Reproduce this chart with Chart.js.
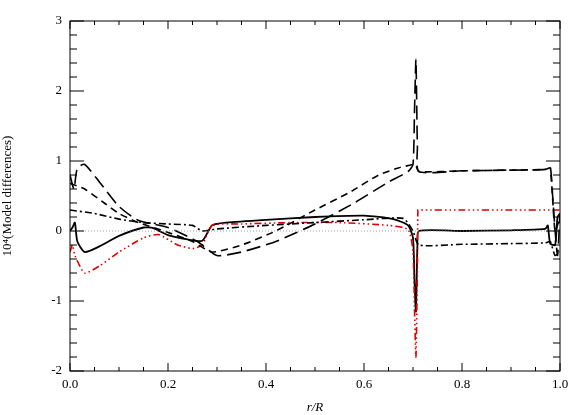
<!DOCTYPE html>
<html>
<head>
<script src="https://cdn.jsdelivr.net/npm/chart.js@4/dist/chart.umd.min.js"></script>
<style>
  body { margin: 0; background: #fff; }
  #wrap { width: 581px; height: 415px; }
</style>
</head>
<body>
<div id="wrap"><canvas id="myChart"></canvas></div>
<script>
// data
const solidX = [0, 0.005, 0.01, 0.015, 0.03, 0.06, 0.1, 0.15, 0.17, 0.2, 0.24, 0.27, 0.29, 0.32, 0.4, 0.5, 0.6, 0.66, 0.69, 0.7, 0.703, 0.706, 0.709, 0.712, 0.8, 0.9, 0.97, 0.975, 0.98, 0.99, 0.995, 1.0];
const solidY = [0, 0.05, 0.12, -0.15, -0.3, -0.22, -0.07, 0.05, 0.04, -0.06, -0.12, -0.14, 0.08, 0.12, 0.16, 0.2, 0.22, 0.17, 0.08, -0.1, -0.7, -1.15, -0.2, 0.0, 0.0, 0.01, 0.03, 0.08, -0.18, -0.2, 0.2, 0.25];

const longX = [0, 0.008, 0.015, 0.03, 0.06, 0.1, 0.14, 0.2, 0.26, 0.3, 0.35, 0.42, 0.5, 0.58, 0.65, 0.69, 0.7, 0.703, 0.706, 0.709, 0.712, 0.8, 0.9, 0.97, 0.98, 0.985, 0.99, 0.995, 1.0];
const longY = [0.8, 0.6, 0.9, 0.95, 0.7, 0.35, 0.15, 0.05, -0.15, -0.35, -0.3, -0.15, 0.1, 0.4, 0.7, 0.85, 0.95, 1.7, 2.45, 1.2, 0.85, 0.86, 0.87, 0.88, 0.92, 0.5, 0.0, -0.35, 0.25];

const shortX = [0, 0.03, 0.07, 0.1, 0.14, 0.2, 0.25, 0.29, 0.35, 0.42, 0.5, 0.57, 0.63, 0.67, 0.7, 0.705, 0.712, 0.8, 0.9, 0.97, 0.98, 0.99, 1.0];
const shortY = [0.68, 0.6, 0.4, 0.25, 0.12, -0.02, -0.15, -0.3, -0.2, 0.0, 0.3, 0.55, 0.8, 0.9, 0.95, 0.95, 0.85, 0.86, 0.87, 0.88, 0.9, 0.0, 0.2];

const dashDotX = [0, 0.05, 0.1, 0.15, 0.2, 0.25, 0.27, 0.3, 0.4, 0.5, 0.6, 0.68, 0.7, 0.712, 0.8, 0.9, 0.97, 0.98, 0.99, 1.0];
const dashDotY = [0.3, 0.25, 0.17, 0.12, 0.1, 0.08, 0.0, 0.03, 0.08, 0.12, 0.16, 0.18, 0.0, -0.2, -0.19, -0.18, -0.17, -0.15, -0.35, -0.3];

const redX = [0, 0.005, 0.01, 0.03, 0.06, 0.1, 0.15, 0.18, 0.22, 0.25, 0.27, 0.29, 0.35, 0.45, 0.55, 0.65, 0.69, 0.7, 0.703, 0.706, 0.709, 0.71, 0.712, 0.8, 0.9, 1.0];
const redY = [-0.3, -0.2, -0.35, -0.6, -0.5, -0.3, -0.1, -0.05, -0.2, -0.25, -0.2, 0.08, 0.1, 0.12, 0.12, 0.08, 0.02, -0.3, -1.1, -1.8, -0.5, 0.3, 0.3, 0.3, 0.3, 0.3];

const xTicks = [0, 0.2, 0.4, 0.6, 0.8, 1.0];
const yTicks = [-2, -1, 0, 1, 2, 3];

function pts(xs, ys) {
  return xs.map((x, i) => ({ x: x, y: ys[i] }));
}

function line(xs, ys, color, dash, width) {
  return {
    data: pts(xs, ys),
    borderColor: color,
    borderWidth: width || 1.6,
    borderDash: dash,
    pointRadius: 0,
    tension: 0.2,
    fill: false,
  };
}

// inward ticks on all four sides, like the IDL plot
const innerTicks = {
  id: "innerTicks",
  afterDraw(chart) {
    const c = chart.ctx, a = chart.chartArea;
    const xs = chart.scales.x, ys = chart.scales.y;
    c.save();
    c.strokeStyle = "#000";
    c.lineWidth = 1;
    c.strokeRect(a.left, a.top, a.right - a.left, a.bottom - a.top);
    c.beginPath();
    for (let v = 0; v <= 1.0001; v += 0.05) {
      const p = xs.getPixelForValue(v);
      const len = Math.abs(v * 5 - Math.round(v * 5)) < 1e-6 ? 8 : 4;
      c.moveTo(p, a.bottom); c.lineTo(p, a.bottom - len);
      c.moveTo(p, a.top); c.lineTo(p, a.top + len);
    }
    for (let v = -2; v <= 3.0001; v += 0.2) {
      const p = ys.getPixelForValue(v);
      const len = Math.abs(v - Math.round(v)) < 1e-6 ? 14 : 7;
      c.moveTo(a.left, p); c.lineTo(a.left + len, p);
      c.moveTo(a.right, p); c.lineTo(a.right - len, p);
    }
    c.stroke();
    c.restore();
  },
};

const myChart = new Chart(document.getElementById("myChart").getContext("2d"), {
  type: "line",
  data: {
    datasets: [
      {
        data: pts([0, 1], [0, 0]),
        borderColor: "#888",
        borderWidth: 0.8,
        borderDash: [1, 2],
        pointRadius: 0,
      },
      line(dashDotX, dashDotY, "#000", [7, 3, 2, 3]),
      line(shortX, shortY, "#000", [7, 5]),
      line(longX, longY, "#000", [14, 6]),
      line(redX, redY, "#e00000", [7, 3, 1.5, 3, 1.5, 3, 1.5, 3]),
      line(solidX, solidY, "#000", [], 1.8),
    ],
  },
  plugins: [innerTicks],
  options: {
    responsive: true,
    maintainAspectRatio: false,
    animation: false,
    layout: { padding: { top: 21, right: 21, left: 0, bottom: 0 } },
    plugins: { legend: { display: false }, tooltip: { enabled: false } },
    scales: {
      x: {
        type: "linear",
        min: 0,
        max: 1,
        afterBuildTicks: (s) => { s.ticks = xTicks.map((v) => ({ value: v })); },
        afterFit: (s) => { s.height = 44; },
        grid: { display: false, drawTicks: false },
        border: { display: false },
        ticks: {
          color: "#000",
          padding: 6,
          font: { family: "Liberation Serif", size: 13 },
          callback: (v) => v.toFixed(1),
        },
        title: {
          display: true,
          text: "r/R",
          color: "#000",
          padding: { top: 0, bottom: 0 },
          font: { family: "Liberation Serif", size: 13, style: "italic" },
        },
      },
      y: {
        min: -2,
        max: 3,
        afterBuildTicks: (s) => { s.ticks = yTicks.map((v) => ({ value: v })); },
        afterFit: (s) => { s.width = 70; },
        grid: { display: false, drawTicks: false },
        border: { display: false },
        ticks: {
          color: "#000",
          padding: 8,
          font: { family: "Liberation Serif", size: 13 },
        },
        title: {
          display: true,
          text: "10⁴(Model differences)",
          color: "#000",
          padding: { top: 0, bottom: 10 },
          font: { family: "Liberation Serif", size: 13 },
        },
      },
    },
  },
});
</script>
</body>
</html>
